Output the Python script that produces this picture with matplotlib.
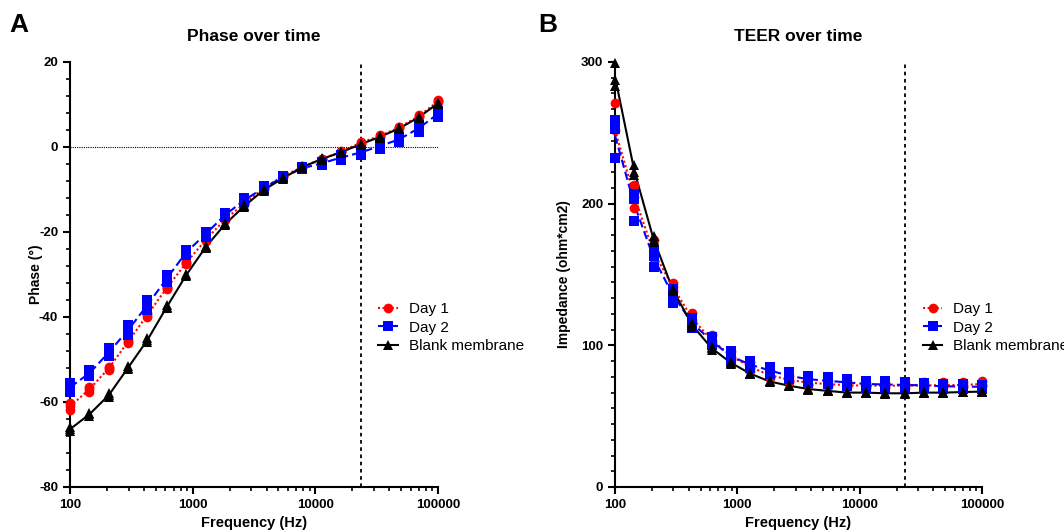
import numpy as np
import matplotlib
matplotlib.use('Agg')
import matplotlib.pyplot as plt
from matplotlib.lines import Line2D
from matplotlib.ticker import FixedLocator, MultipleLocator, LogLocator, NullFormatter

plt.rcParams['font.family'] = ['Liberation Sans', 'DejaVu Sans']
plt.rcParams['axes.unicode_minus'] = False

freq = [100, 144, 207, 298, 428, 616, 886, 1274, 1833, 2637, 3793, 5456,
        7848, 11288, 16238, 23357, 33598, 48329, 69519, 100000]
cutoff_freq = 23357

# phase (degrees), three replicates per series
phase_day1 = [
    [-60.2, -56.4, -51.7, -45.4, -39.1, -32.9, -27.0, -21.7, -16.9, -13.2, -9.5, -6.8, -4.6, -2.8, -1.0, 1.2, 2.8, 4.8, 7.5, 11.0],
    [-61.9, -57.6, -52.5, -46.1, -39.9, -33.4, -27.5, -22.1, -17.2, -13.5, -9.8, -7.0, -4.8, -3.0, -1.2, 0.8, 2.4, 4.4, 7.0, 10.5],
    [-61.0, -57.0, -52.0, -45.8, -39.5, -33.1, -27.3, -21.9, -17.0, -13.4, -9.6, -6.9, -4.7, -2.9, -1.1, 1.0, 2.6, 4.6, 7.2, 10.7],
]
phase_day2 = [
    [-55.5, -52.5, -47.4, -41.9, -36.0, -30.1, -24.2, -19.9, -15.6, -12.1, -9.3, -6.8, -4.8, -3.5, -1.9, -0.7, 0.9, 2.4, 5.2, 8.5],
    [-57.6, -54.0, -49.3, -44.2, -38.4, -31.7, -25.4, -21.1, -16.5, -12.9, -10.0, -7.4, -5.3, -4.2, -3.1, -1.9, -0.5, 1.2, 3.6, 7.1],
    [-56.5, -53.2, -48.3, -43.0, -37.2, -30.9, -24.8, -20.5, -16.0, -12.5, -9.6, -7.1, -5.0, -3.8, -2.5, -1.3, 0.2, 1.8, 4.4, 7.8],
]
phase_blank = [
    [-66.0, -62.5, -58.0, -51.5, -45.0, -37.3, -29.9, -23.4, -18.0, -13.7, -10.0, -7.2, -4.6, -2.7, -1.1, 0.8, 2.5, 4.5, 7.1, 10.4],
    [-66.8, -63.3, -58.8, -52.3, -45.8, -37.9, -30.4, -23.8, -18.4, -14.1, -10.3, -7.5, -4.9, -3.0, -1.4, 0.5, 2.2, 4.2, 6.8, 10.1],
    [-66.4, -62.9, -58.4, -51.9, -45.4, -37.6, -30.1, -23.6, -18.2, -13.9, -10.1, -7.3, -4.7, -2.8, -1.2, 0.6, 2.4, 4.4, 7.0, 10.3],
]

# impedance (ohm*cm2), three replicates per series
teer_day1 = [
    [271, 213, 174, 144, 122.6, 107.3, 96, 88, 82, 78, 76, 75, 74, 73.5, 73.5, 73.5, 74, 74, 74, 75],
    [252, 197, 158, 138, 118, 103, 92, 84, 78, 75, 73, 72, 71, 71, 71, 71, 71, 71, 71.5, 72],
    [233, 205, 165, 141, 116, 101, 90, 82, 77, 74, 72, 71, 70.5, 70, 70, 70, 70, 70.5, 70.5, 71],
]
teer_day2 = [
    [259, 207, 167, 140, 119, 106, 96, 89, 85, 81, 78.6, 77.4, 76.2, 75, 74.5, 74, 73.2, 72.7, 72.5, 72],
    [253, 203, 163, 136, 116, 103, 92, 86, 82, 78.5, 76, 75, 74, 73, 72.5, 72, 72, 71, 71, 70.5],
    [232, 188, 155, 130, 112, 100, 89, 84, 80, 76, 73.6, 72.5, 71.3, 70.1, 70, 70.1, 70.1, 69.4, 69.4, 69.4],
]
teer_blank = [
    [299, 227, 177, 140, 115.5, 99, 88.5, 80.5, 75, 72, 69.5, 68.2, 67, 67, 66.5, 66.5, 67, 67, 67.3, 67.7],
    [287, 220, 173, 138, 113, 97, 87, 79.5, 74, 71, 68.8, 67.5, 66.3, 66.2, 65.8, 65.8, 66.2, 66.2, 66.7, 67],
    [283, 222, 174, 139, 114, 98, 87.5, 80, 74.5, 71.5, 69.2, 67.8, 66.6, 66.6, 66.1, 66.1, 66.6, 66.6, 67, 67.3],
]

series_labels = ['Day 1', 'Day 2', 'Blank membrane']
series_colors = ['#ff0000', '#0000ff', '#000000']
series_markers = ['o', 's', '^']
series_styles = [(0, (1, 1.2)), (0, (4, 2)), '-']

fig = plt.figure(figsize=(10.64, 5.32), dpi=100)
ax1 = fig.add_axes([0.0658, 0.0846, 0.3459, 0.799])
ax2 = fig.add_axes([0.578, 0.0846, 0.345, 0.799])


def draw_panel(ax, data, ylim, major, minor, title, ylabel, ylabel_x, zero_line=False):
    for reps, lab, col, mk, ls in zip(data, series_labels, series_colors, series_markers, series_styles):
        reps = np.array(reps)
        ax.plot(freq, reps.mean(axis=0), color=col, ls=ls, lw=1.5, zorder=3, clip_on=False)
        for r in reps:
            ax.plot(freq, r, ls='none', marker=mk, color=col, ms=7, mew=0, zorder=4, clip_on=False)
    if zero_line:
        ax.axhline(0, color='black', ls=(0, (1, 1)), lw=0.8, zorder=1)
    ax.axvline(cutoff_freq, color='black', ls=(0, (2, 2)), lw=1.3, zorder=2)
    ax.set_xscale('log')
    ax.set_xlim(100, 100000)
    ax.set_ylim(*ylim)
    ax.xaxis.set_major_locator(FixedLocator([100, 1000, 10000, 100000]))
    ax.set_xticklabels(['100', '1000', '10000', '100000'])
    ax.xaxis.set_minor_locator(LogLocator(base=10, subs=np.arange(2, 10)))
    ax.xaxis.set_minor_formatter(NullFormatter())
    ax.yaxis.set_major_locator(MultipleLocator(major))
    ax.yaxis.set_minor_locator(MultipleLocator(minor))
    for s in ['top', 'right']:
        ax.spines[s].set_visible(False)
    for s in ['left', 'bottom']:
        ax.spines[s].set_linewidth(1.5)
    ax.tick_params(which='major', direction='out', length=5, width=1.5, labelsize=9.5)
    ax.tick_params(which='minor', direction='out', length=3, width=1.2)
    for t in ax.get_xticklabels() + ax.get_yticklabels():
        t.set_fontweight('bold')
    ax.set_title(title, fontsize=12.5, fontweight='bold', pad=15)
    ax.set_xlabel('Frequency (Hz)', fontsize=10.5, fontweight='bold', labelpad=4)
    ax.set_ylabel(ylabel, fontsize=10, fontweight='bold')
    ax.yaxis.set_label_coords(ylabel_x, 0.5)
    handles = [Line2D([], [], color=c, ls=ls, lw=1.5, marker=m, ms=7, mew=0)
               for c, ls, m in zip(series_colors, series_styles, series_markers)]
    ax.legend(handles, series_labels, loc='upper left', bbox_to_anchor=(0.838, 0.435),
              frameon=False, fontsize=11, handlelength=1.3, handletextpad=0.7,
              labelspacing=0.3, borderpad=0, borderaxespad=0)


draw_panel(ax1, [phase_day1, phase_day2, phase_blank], (-80, 20), 20, 4,
           'Phase over time', 'Phase (°)', -0.073, zero_line=True)
draw_panel(ax2, [teer_day1, teer_day2, teer_blank], (0, 300), 100, 100 / 9,
           'TEER over time', 'Impedance (ohm*cm2)', -0.119)

fig.text(0.009, 0.94, 'A', fontsize=19, fontweight='bold')
fig.text(0.506, 0.94, 'B', fontsize=19, fontweight='bold')

fig.savefig('out.png', dpi=100)
